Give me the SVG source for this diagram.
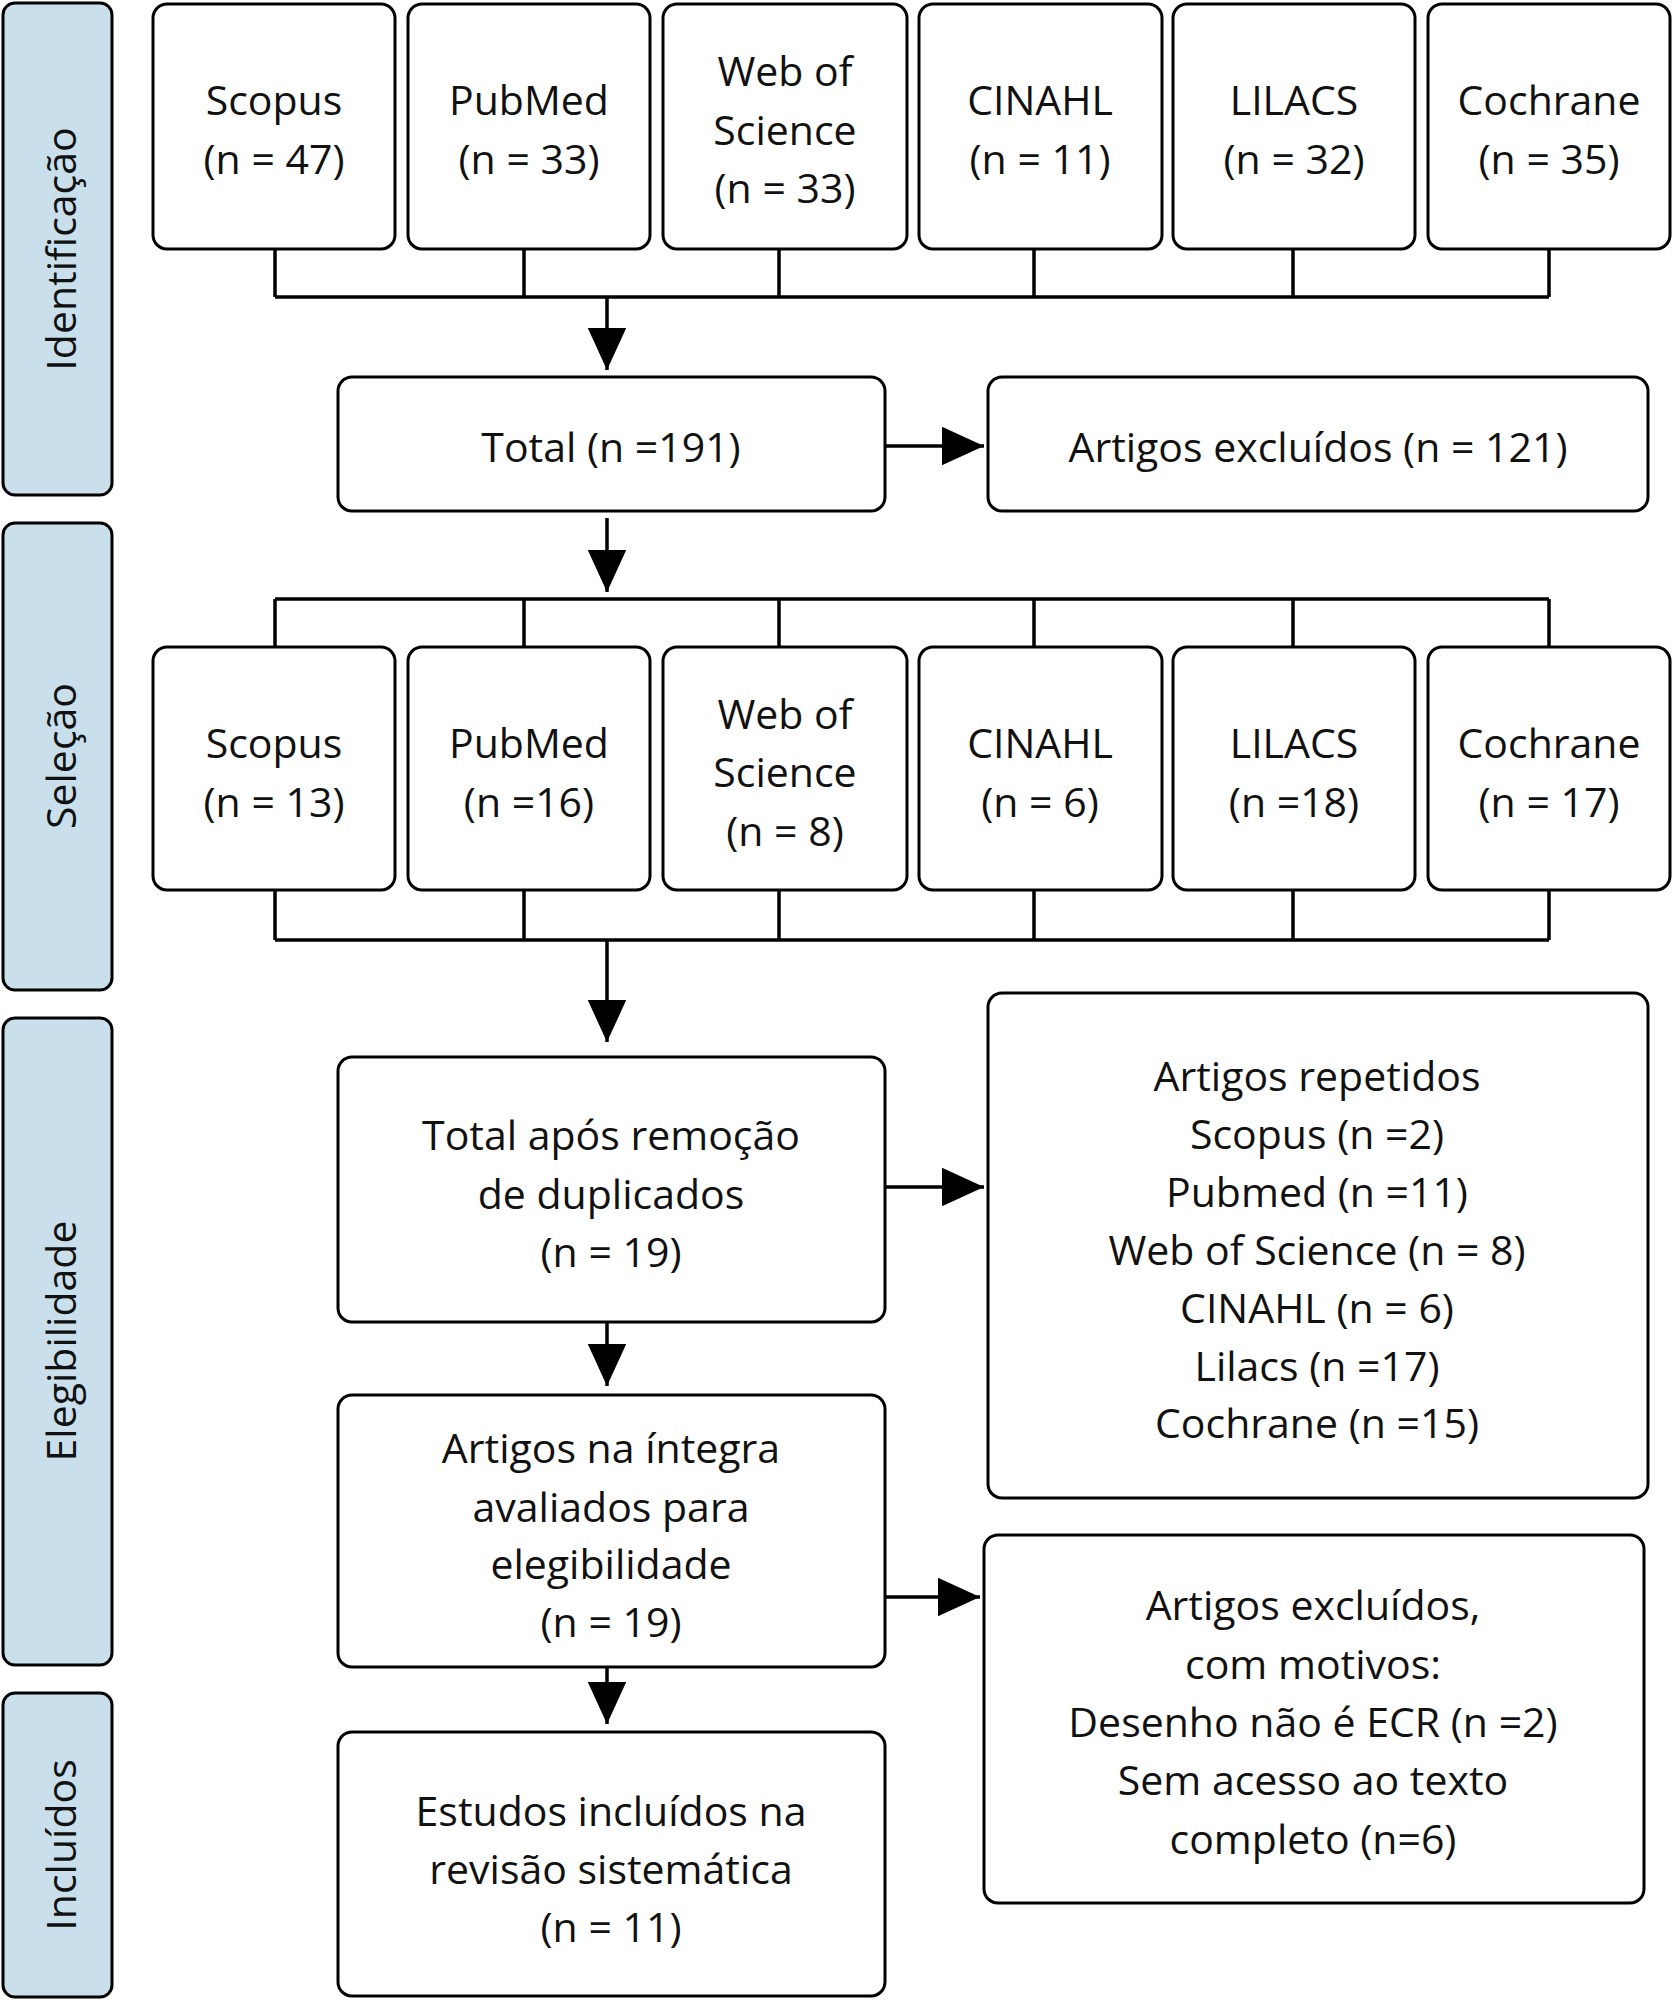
<svg xmlns="http://www.w3.org/2000/svg" width="1673" height="2000" viewBox="0 0 1673 2000">
<style>
.b{fill:#fff;stroke:#000;stroke-width:3}
.s{fill:#c9e0ec;stroke:#000;stroke-width:3}
text{font-family:"Open Sans","Noto Sans",sans-serif;font-size:41px;text-anchor:middle;dominant-baseline:central;fill:#111}
.l{stroke:#000;stroke-width:3.5;fill:none}
</style>
<defs><marker id="a" markerWidth="13" markerHeight="11" refX="12" refY="5.5" orient="auto" markerUnits="strokeWidth"><path d="M0,0L12,5.5L0,11z"/></marker></defs>
<g id="side">
<rect class="s" x="3" y="3" width="109" height="492" rx="12"/><text transform="translate(60,249) rotate(-90)">Identificação</text>
<rect class="s" x="3" y="523" width="109" height="467" rx="12"/><text transform="translate(60,756) rotate(-90)">Seleção</text>
<rect class="s" x="3" y="1018" width="109" height="647" rx="12"/><text transform="translate(60,1341) rotate(-90)">Elegibilidade</text>
<rect class="s" x="3" y="1693" width="109" height="304" rx="12"/><text transform="translate(60,1845) rotate(-90)">Incluídos</text>
</g>
<g id="connectors">
<path class="l" d="M275,249V297M524,249V297M779,249V297M1034,249V297M1293,249V297M1549,249V297M275,297H1549"/>
<path class="l" d="M607,297V370" marker-end="url(#a)"/>
<path class="l" d="M885,446H984" marker-end="url(#a)"/>
<path class="l" d="M607,518V592" marker-end="url(#a)"/>
<path class="l" d="M275,599H1549M275,599V647M524,599V647M779,599V647M1034,599V647M1293,599V647M1549,599V647"/>
<path class="l" d="M275,890V940M524,890V940M779,890V940M1034,890V940M1293,890V940M1549,890V940M275,940H1549"/>
<path class="l" d="M607,940V1042" marker-end="url(#a)"/>
<path class="l" d="M885,1187H984" marker-end="url(#a)"/>
<path class="l" d="M607,1322V1386" marker-end="url(#a)"/>
<path class="l" d="M885,1597H980" marker-end="url(#a)"/>
<path class="l" d="M607,1667V1724" marker-end="url(#a)"/>
</g>
<g id="r1">
<g id="scopus1"><rect class="b" x="153" y="4" width="242" height="245" rx="14"/><text x="274" y="99">Scopus</text><text x="274" y="158">(n = 47)</text></g>
<g id="pubmed1"><rect class="b" x="408" y="4" width="242" height="245" rx="14"/><text x="529" y="99">PubMed</text><text x="529" y="158">(n = 33)</text></g>
<g id="wos1"><rect class="b" x="663" y="4" width="244" height="245" rx="14"/><text x="785" y="70">Web of</text><text x="785" y="129">Science</text><text x="785" y="187">(n = 33)</text></g>
<g id="cinahl1"><rect class="b" x="919" y="4" width="243" height="245" rx="14"/><text x="1040" y="99">CINAHL</text><text x="1040" y="158">(n = 11)</text></g>
<g id="lilacs1"><rect class="b" x="1173" y="4" width="242" height="245" rx="14"/><text x="1294" y="99">LILACS</text><text x="1294" y="158">(n = 32)</text></g>
<g id="cochrane1"><rect class="b" x="1428" y="4" width="242" height="245" rx="14"/><text x="1549" y="99">Cochrane</text><text x="1549" y="158">(n = 35)</text></g>
</g>
<g id="total"><rect class="b" x="338" y="377" width="547" height="134" rx="14"/><text x="611" y="446">Total (n =191)</text></g>
<g id="excl1"><rect class="b" x="988" y="377" width="660" height="134" rx="14"/><text x="1318" y="446">Artigos excluídos (n = 121)</text></g>
<g id="r2">
<g id="scopus2"><rect class="b" x="153" y="647" width="242" height="243" rx="14"/><text x="274" y="742">Scopus</text><text x="274" y="801">(n = 13)</text></g>
<g id="pubmed2"><rect class="b" x="408" y="647" width="242" height="243" rx="14"/><text x="529" y="742">PubMed</text><text x="529" y="801">(n =16)</text></g>
<g id="wos2"><rect class="b" x="663" y="647" width="244" height="243" rx="14"/><text x="785" y="713">Web of</text><text x="785" y="771">Science</text><text x="785" y="830">(n = 8)</text></g>
<g id="cinahl2"><rect class="b" x="919" y="647" width="243" height="243" rx="14"/><text x="1040" y="742">CINAHL</text><text x="1040" y="801">(n = 6)</text></g>
<g id="lilacs2"><rect class="b" x="1173" y="647" width="242" height="243" rx="14"/><text x="1294" y="742">LILACS</text><text x="1294" y="801">(n =18)</text></g>
<g id="cochrane2"><rect class="b" x="1428" y="647" width="242" height="243" rx="14"/><text x="1549" y="742">Cochrane</text><text x="1549" y="801">(n = 17)</text></g>
</g>
<g id="dedup"><rect class="b" x="338" y="1057" width="547" height="265" rx="14"/><text x="611" y="1134">Total após remoção</text><text x="611" y="1193">de duplicados</text><text x="611" y="1251">(n = 19)</text></g>
<g id="repetidos"><rect class="b" x="988" y="993" width="660" height="505" rx="14"/>
<text x="1317" y="1075">Artigos repetidos</text><text x="1317" y="1133">Scopus (n =2)</text><text x="1317" y="1191">Pubmed (n =11)</text><text x="1317" y="1249">Web of Science (n = 8)</text><text x="1317" y="1307">CINAHL (n = 6)</text><text x="1317" y="1365">Lilacs (n =17)</text><text x="1317" y="1422">Cochrane (n =15)</text></g>
<g id="integra"><rect class="b" x="338" y="1395" width="547" height="272" rx="14"/><text x="611" y="1447">Artigos na íntegra</text><text x="611" y="1506">avaliados para</text><text x="611" y="1563">elegibilidade</text><text x="611" y="1621">(n = 19)</text></g>
<g id="excl2"><rect class="b" x="984" y="1535" width="660" height="368" rx="14"/><text x="1313" y="1604">Artigos excluídos,</text><text x="1313" y="1663">com motivos:</text><text x="1313" y="1721">Desenho não é ECR (n =2)</text><text x="1313" y="1779">Sem acesso ao texto</text><text x="1313" y="1838">completo (n=6)</text></g>
<g id="incluidos"><rect class="b" x="338" y="1732" width="547" height="264" rx="14"/><text x="611" y="1810">Estudos incluídos na</text><text x="611" y="1868">revisão sistemática</text><text x="611" y="1926">(n = 11)</text></g>
</svg>
